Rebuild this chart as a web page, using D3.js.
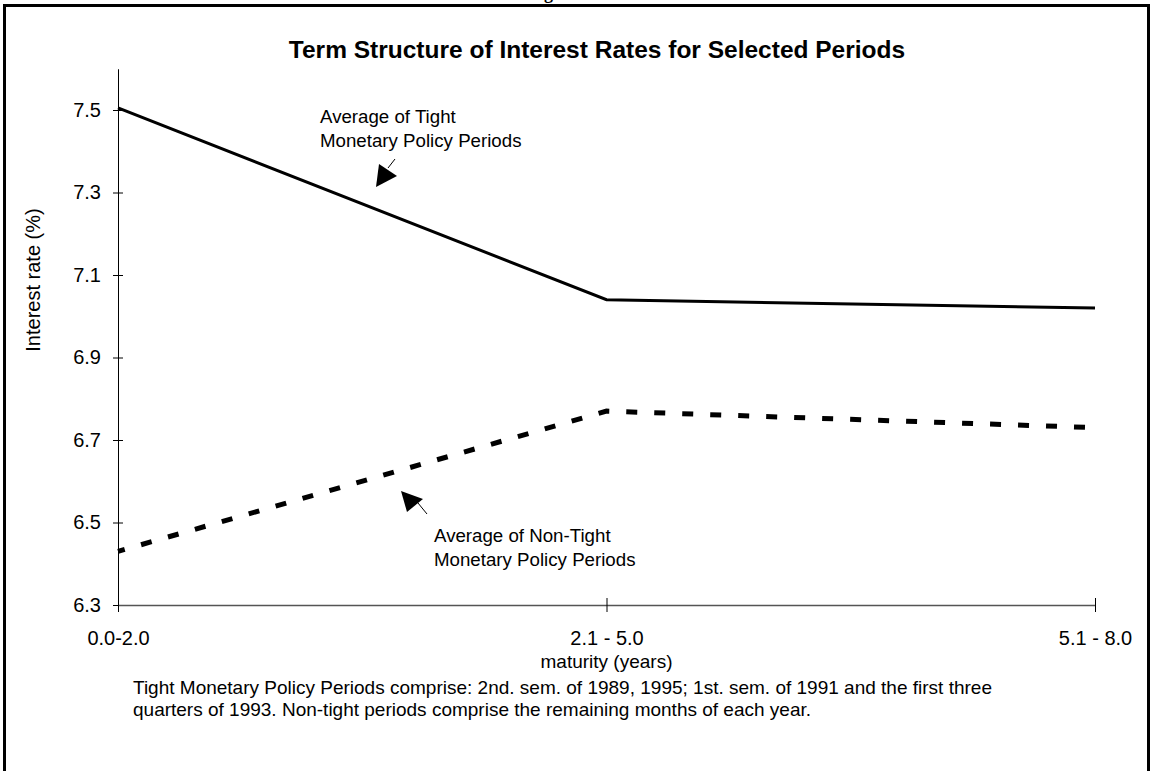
<!DOCTYPE html>
<html>
<head>
<meta charset="utf-8">
<script src="https://cdn.jsdelivr.net/npm/d3@7/dist/d3.min.js"></script>
<style>
  body { margin: 0; background: #fff; }
  svg { display: block; font-family: Arial, "Liberation Sans", Helvetica, sans-serif; }
</style>
</head>
<body>
<div id="container"></div>
<script>
// data
var maturities = ["0.0-2.0", "2.1 - 5.0", "5.1 - 8.0"],
    tightRates = [7.505, 7.04, 7.02],
    nonTightRates = [6.43, 6.77, 6.73],
    rateTicks = [6.3, 6.5, 6.7, 6.9, 7.1, 7.3, 7.5];

var footnote = [
  "Tight Monetary Policy Periods comprise: 2nd. sem. of 1989, 1995; 1st. sem. of 1991 and the first three",
  "quarters of 1993. Non-tight periods comprise the remaining months of each year."
];

// parameters
var width = 1153,
    height = 771,
    left = 118,
    right = 1095,
    top_ = 68.75,
    bottom = 605;

var svg = d3.select("#container")
    .append("svg")
    .attr("width", width)
    .attr("height", height);

// frame + cut figure caption
svg.append("text")
    .attr("x", 528).attr("y", -1)
    .style("font-family", "'Liberation Serif', 'Times New Roman', serif")
    .style("font-weight", "bold")
    .style("font-size", "18px")
    .text("Figure");

svg.append("rect")
    .attr("x", 4.5).attr("y", 5.5)
    .attr("width", 1144).attr("height", 800)
    .attr("fill", "none")
    .attr("stroke", "#000")
    .attr("stroke-width", 3);

svg.append("text")
    .attr("x", 597).attr("y", 58)
    .attr("text-anchor", "middle")
    .style("font-weight", "bold")
    .style("font-size", "24.5px")
    .text("Term Structure of Interest Rates for Selected Periods");

// scales
var x = d3.scalePoint().domain(maturities).range([left, right]);
var y = d3.scaleLinear().domain([6.3, 7.6]).range([bottom, top_]);

// y axis
var yAxis = svg.append("g")
    .attr("transform", "translate(" + left + ",0)")
    .call(d3.axisLeft(y).tickValues(rateTicks).tickFormat(d3.format(".1f"))
        .tickSizeInner(5).tickSizeOuter(0).tickPadding(12));
yAxis.select(".domain").attr("stroke", "#000");
yAxis.selectAll(".tick line").attr("x1", 5);
yAxis.selectAll(".tick text")
    .style("font-size", "20px")
    .attr("fill", "#000");

// x axis
var xAxis = svg.append("g")
    .attr("transform", "translate(0," + bottom + ")")
    .call(d3.axisBottom(x).tickSizeInner(7).tickSizeOuter(0));
xAxis.select(".domain").attr("stroke", "#555").attr("stroke-width", 1.5);
xAxis.selectAll(".tick line").attr("y1", -7).attr("stroke", "#000");
xAxis.selectAll(".tick text")
    .attr("y", 40).attr("dy", null)
    .style("font-size", "20px")
    .attr("fill", "#000");

svg.append("text")
    .attr("x", x(maturities[1])).attr("y", 668)
    .attr("text-anchor", "middle")
    .style("font-size", "19px")
    .text("maturity (years)");

svg.append("text")
    .attr("transform", "translate(40,280) rotate(-90)")
    .attr("text-anchor", "middle")
    .style("font-size", "20px")
    .text("Interest rate (%)");

// lines
var line = d3.line()
    .x(function (d, i) { return x(maturities[i]); })
    .y(function (d) { return y(d); });

svg.append("path")
    .datum(tightRates)
    .attr("d", line)
    .attr("fill", "none")
    .attr("stroke", "#000")
    .attr("stroke-width", 3);

svg.append("path")
    .datum(nonTightRates)
    .attr("d", line)
    .attr("fill", "none")
    .attr("stroke", "#000")
    .attr("stroke-width", 5)
    .attr("stroke-dasharray", "11,17")
    .attr("stroke-dashoffset", 4);

// annotations
var notes = [
  { lines: ["Average of Tight", "Monetary Policy Periods"], x: 320, y: 123,
    stem: [[395, 159], [388, 168]], head: [[376, 187], [379, 164], [397, 176]] },
  { lines: ["Average of Non-Tight", "Monetary Policy Periods"], x: 434, y: 542,
    stem: [[418, 503], [427, 514]], head: [[401, 491], [407, 512], [423, 499]] }
];

notes.forEach(function (n) {
    svg.append("text")
        .attr("x", n.x).attr("y", n.y)
        .style("font-size", "18.7px")
        .selectAll("tspan")
        .data(n.lines)
        .enter()
        .append("tspan")
        .attr("x", n.x)
        .attr("dy", function (d, i) { return i ? 24 : 0; })
        .text(function (d) { return d; });
    svg.append("line")
        .attr("x1", n.stem[0][0]).attr("y1", n.stem[0][1])
        .attr("x2", n.stem[1][0]).attr("y2", n.stem[1][1])
        .attr("stroke", "#000");
    svg.append("polygon")
        .attr("points", n.head.join(" "))
        .attr("fill", "#000");
});

// footnote
svg.append("text")
    .attr("x", 133).attr("y", 694)
    .style("font-size", "19px")
    .selectAll("tspan")
    .data(footnote)
    .enter()
    .append("tspan")
    .attr("x", 133)
    .attr("dy", function (d, i) { return i ? 22 : 0; })
    .text(function (d) { return d; });
</script>
</body>
</html>
